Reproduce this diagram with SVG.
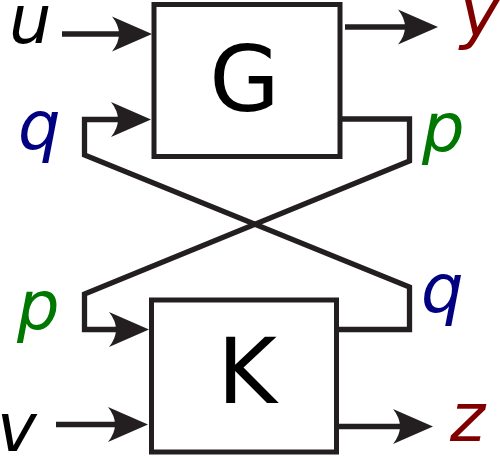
<svg xmlns="http://www.w3.org/2000/svg" width="500" height="456" viewBox="0 0 500 456">
<style>
.box{fill:#fff;stroke:#231f20;stroke-width:5}
.big{font-family:"DejaVu Sans",sans-serif;font-size:91px;fill:#000;text-anchor:middle}
.lbl{font-family:"DejaVu Sans",sans-serif;font-style:italic;font-size:67px}
.wire{fill:none;stroke:#231f20;stroke-width:5.3;stroke-linejoin:miter}
.arr{marker-end:url(#ah)}
</style>
<defs>
<marker id="ah" markerUnits="userSpaceOnUse" viewBox="0 -18 40 36" markerWidth="40" markerHeight="36" refX="16" refY="0" orient="auto">
<path d="M0,-17.5 L40,0 L0,17.5 Q14,0 0,-17.5 z" fill="#231f20"/>
</marker>
</defs>
<g id="connectors">
<path class="wire arr" d="M62,34 H128"/>
<path class="wire arr" d="M345,27 H414"/>
<path class="wire arr" d="M56,424.5 H124"/>
<path class="wire arr" d="M339,426.5 H409"/>
<path class="wire arr" d="M339,329.5 H409.5 V287 L84.5,155 V119.5 H127"/>
<path class="wire arr" d="M342,119 H409.5 V161 L84.5,294 V329.5 H125"/>
</g>
<g id="G">
<rect class="box" x="154" y="4.5" width="186" height="152"/>
<text class="big" x="244.5" y="110.5">G</text>
</g>
<g id="K">
<rect class="box" x="151.5" y="300" width="185" height="152"/>
<text class="big" x="247" y="403">K</text>
</g>
<g id="labels">
<text class="lbl" x="9" y="43" fill="#000">u</text>
<text class="lbl" x="460" y="36" fill="#800000">y</text>
<text class="lbl" x="18" y="149" fill="#000080">q</text>
<text class="lbl" x="422" y="151" fill="#007700">p</text>
<text class="lbl" x="17" y="329" fill="#007700">p</text>
<text class="lbl" x="421" y="312" fill="#000080">q</text>
<text class="lbl" x="-3" y="451" fill="#000">v</text>
<text class="lbl" x="450" y="441" fill="#800000">z</text>
</g>
</svg>
